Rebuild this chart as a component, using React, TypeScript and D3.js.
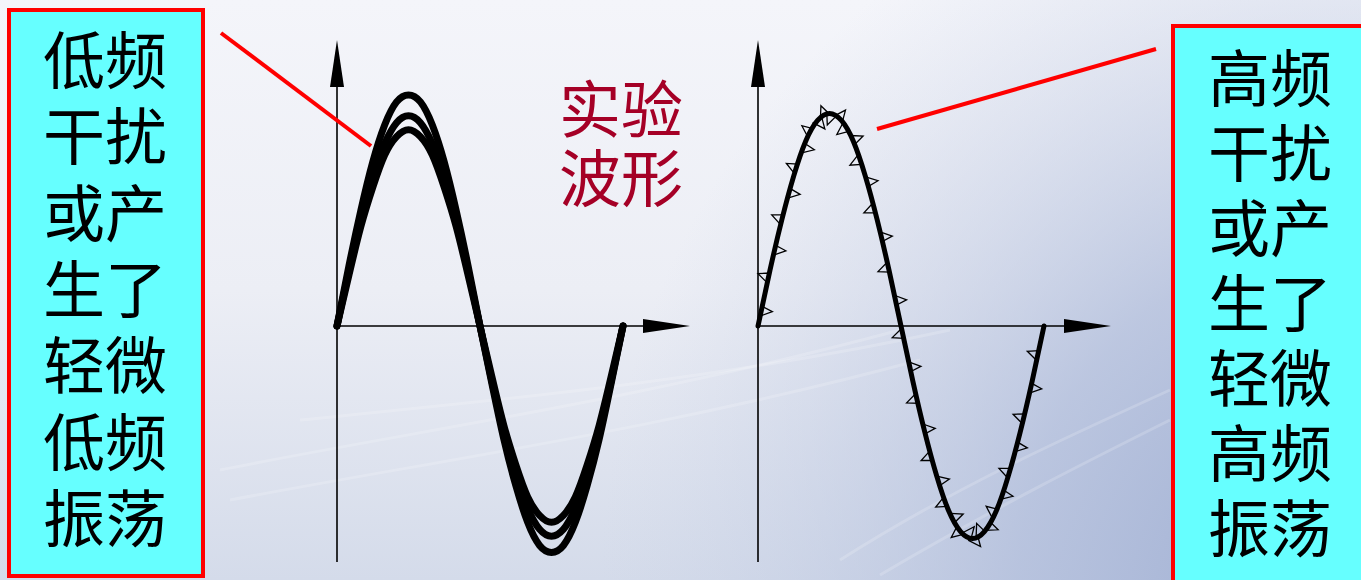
import React from "react";
import * as d3 from "d3";

// ---- data ----
const phases = [0, 15, 30, 45, 60, 75, 90, 105, 120, 135, 150, 165, 180, 195, 210, 225, 240, 255, 270, 285, 300, 315, 330, 345, 360];
const lowA = [0, 0.26, 0.5, 0.71, 0.87, 0.97, 1.0, 0.97, 0.87, 0.71, 0.5, 0.26, 0, -0.25, -0.49, -0.69, -0.85, -0.95, -0.98, -0.95, -0.85, -0.69, -0.49, -0.25, 0];
const lowB = [0, 0.24, 0.46, 0.65, 0.79, 0.88, 0.91, 0.88, 0.79, 0.65, 0.46, 0.24, 0, -0.24, -0.46, -0.65, -0.79, -0.88, -0.91, -0.88, -0.79, -0.65, -0.46, -0.24, 0];
const lowC = [0, 0.22, 0.43, 0.6, 0.74, 0.82, 0.85, 0.82, 0.74, 0.6, 0.43, 0.22, 0, -0.22, -0.43, -0.6, -0.74, -0.82, -0.85, -0.82, -0.74, -0.6, -0.43, -0.22, 0];
const highWave = [0, 0.24, 0.46, 0.65, 0.8, 0.89, 0.92, 0.89, 0.8, 0.65, 0.46, 0.24, 0, -0.24, -0.46, -0.65, -0.8, -0.89, -0.92, -0.89, -0.8, -0.65, -0.46, -0.24, 0];
const spikePhases = [4, 13, 21, 30, 39, 48, 57, 66, 75, 84, 92, 101, 110, 119, 128, 137, 146, 155, 164, 173, 182, 191, 200, 209, 218, 227, 236, 245, 254, 263, 271, 280, 289, 298, 307, 316, 325, 334, 343, 352];

const leftLines = ["低频", "干扰", "或产", "生了", "轻微", "低频", "振荡"];
const rightLines = ["高频", "干扰", "或产", "生了", "轻微", "高频", "振荡"];
const titleLines = ["实验", "波形"];

const W = 1361;
const H = 580;
const Y0 = 326;

const yScale = d3.scaleLinear().domain([-1, 1]).range([Y0 + 231, Y0 - 231]);
const xLeft = d3.scaleLinear().domain([0, 360]).range([337, 623]);
const xRight = d3.scaleLinear().domain([0, 360]).range([758, 1044]);

function wavePath(xs: d3.ScaleLinear<number, number>, vals: number[]) {
  const line = d3
    .line<number>()
    .x((_, i) => xs(phases[i]))
    .y((v) => yScale(v))
    .curve(d3.curveNatural);
  return line(vals) || "";
}

function valueAt(vals: number[], p: number) {
  const interp = d3.scaleLinear().domain(phases).range(vals);
  return interp(p);
}

function Axes({ x0 }: { x0: number }) {
  const top = 40;
  const bottom = 562;
  const tipX = x0 + 353;
  return (
    <g>
      <line x1={x0} y1={bottom} x2={x0} y2={top + 40} stroke="#000" strokeWidth={1.6} />
      <polygon points={`${x0},${top} ${x0 - 7},${top + 47} ${x0 + 7},${top + 47}`} fill="#000" />
      <line x1={x0} y1={Y0} x2={tipX - 40} y2={Y0} stroke="#000" strokeWidth={1.6} />
      <polygon points={`${tipX},${Y0} ${tipX - 47},${Y0 - 7} ${tipX - 47},${Y0 + 7}`} fill="#000" />
    </g>
  );
}

function Spikes() {
  const items = spikePhases.map((p, i) => {
    const x = xRight(p);
    const y = yScale(valueAt(highWave, p));
    const x2 = xRight(p + 1);
    const y2 = yScale(valueAt(highWave, p + 1));
    const dx = x2 - x;
    const dy = y2 - y;
    const len = Math.hypot(dx, dy) || 1;
    const tx = dx / len;
    const ty = dy / len;
    const side = i % 2 === 0 ? 1 : -1;
    const nx = -ty * side;
    const ny = tx * side;
    const a = 5;
    const h = 11;
    const p1 = [x - tx * a, y - ty * a];
    const p2 = [x + tx * a, y + ty * a];
    const ap = [x + nx * h + tx * 2, y + ny * h + ty * 2];
    return (
      <path
        key={i}
        d={`M${p1[0]},${p1[1]}L${ap[0]},${ap[1]}L${p2[0]},${p2[1]}Z`}
        fill="none"
        stroke="#000"
        strokeWidth={1.3}
      />
    );
  });
  return <g>{items}</g>;
}

function BoxText({ lines, cx, y0, step, fill }: { lines: string[]; cx: number; y0: number; step: number; fill: string }) {
  return (
    <g>
      {lines.map((t, i) => (
        <text
          key={i}
          x={cx}
          y={y0 + i * step}
          textAnchor="middle"
          fontFamily='"Liberation Serif", "Noto Sans CJK SC", sans-serif'
          fontSize={62}
          fill={fill}
        >
          {t}
        </text>
      ))}
    </g>
  );
}

export default function App() {
  return (
    <svg
      width={W}
      height={H}
      viewBox={`0 0 ${W} ${H}`}
      style={{ position: "absolute", left: 0, top: 0, display: "block" }}
    >
      <defs>
        <linearGradient id="bgV" x1="0" y1="0" x2="0" y2="1">
          <stop offset="0" stopColor="#f4f5fa" />
          <stop offset="0.5" stopColor="#eceef5" />
          <stop offset="1" stopColor="#d4dbea" />
        </linearGradient>
        <radialGradient id="bgR" cx={W} cy={H} r={760} gradientUnits="userSpaceOnUse">
          <stop offset="0" stopColor="#9aaad0" stopOpacity={1} />
          <stop offset="0.45" stopColor="#aebbda" stopOpacity={0.75} />
          <stop offset="1" stopColor="#c8d1e6" stopOpacity={0} />
        </radialGradient>
      </defs>
      <rect x={0} y={0} width={W} height={H} fill="url(#bgV)" />
      <rect x={0} y={0} width={W} height={H} fill="url(#bgR)" />
      {/* faint background swooshes */}
      <g fill="none" stroke="#ffffff" strokeOpacity={0.18} strokeWidth={3}>
        <path d="M220,470 C420,430 640,400 900,330" />
        <path d="M230,500 C440,460 660,430 920,360" />
        <path d="M300,420 C500,400 720,380 950,330" />
        <path d="M840,560 C950,490 1060,440 1170,390" />
        <path d="M880,575 C990,510 1090,460 1170,420" />
      </g>

      {/* left box */}
      <rect x={9} y={10} width={194} height={566} fill="#66ffff" stroke="#ff0000" strokeWidth={4} />
      <BoxText lines={leftLines} cx={105} y0={84} step={76.3} fill="#000" />

      {/* right box */}
      <rect x={1173} y={26} width={200} height={600} fill="#66ffff" stroke="#ff0000" strokeWidth={4} />
      <BoxText lines={rightLines} cx={1270} y0={102} step={75} fill="#000" />

      {/* title */}
      <BoxText lines={titleLines} cx={621} y0={133} step={69} fill="#a50026" />

      {/* left chart */}
      <Axes x0={xLeft(0)} />
      {[lowA, lowB, lowC].map((vals, i) => (
        <path
          key={i}
          d={wavePath(xLeft, vals)}
          fill="none"
          stroke="#000"
          strokeWidth={7}
          strokeLinecap="round"
          strokeLinejoin="round"
        />
      ))}

      {/* right chart */}
      <Axes x0={xRight(0)} />
      <Spikes />
      <path
        d={wavePath(xRight, highWave)}
        fill="none"
        stroke="#000"
        strokeWidth={5}
        strokeLinecap="round"
        strokeLinejoin="round"
      />

      {/* leader lines */}
      <line x1={221} y1={33} x2={371} y2={146} stroke="#ff0000" strokeWidth={4} />
      <line x1={877} y1={129} x2={1156} y2={49} stroke="#ff0000" strokeWidth={4} />
    </svg>
  );
}
